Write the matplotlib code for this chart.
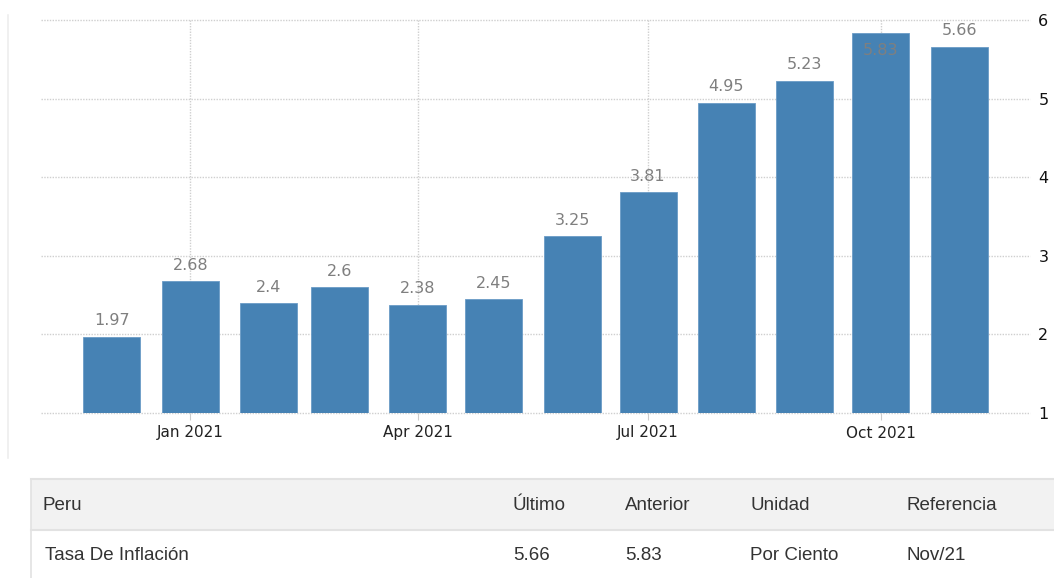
import matplotlib
matplotlib.use("Agg")
import matplotlib.pyplot as plt
import matplotlib.dates as mdates
from matplotlib.patches import Rectangle
from matplotlib.lines import Line2D
import numpy as np
import datetime as dt

# data: Peru inflation rate, monthly
months = ["2020-12", "2021-01", "2021-02", "2021-03", "2021-04", "2021-05",
          "2021-06", "2021-07", "2021-08", "2021-09", "2021-10", "2021-11"]
values = [1.97, 2.68, 2.4, 2.6, 2.38, 2.45, 3.25, 3.81, 4.95, 5.23, 5.83, 5.66]
tick_months = ["2021-01", "2021-04", "2021-07", "2021-10"]
tick_labels = ["Jan 2021", "Apr 2021", "Jul 2021", "Oct 2021"]
y_ticks = [1, 2, 3, 4, 5, 6]

# table under the chart
table_header = ["Peru", "Último", "Anterior", "Unidad", "Referencia"]
table_row = ["Tasa De Inflación", "5.66", "5.83", "Por Ciento", "Nov/21"]

W, H = 1054, 578
fig = plt.figure(figsize=(W / 100, H / 100), dpi=100)

def px(x, y):
    # pixel coords (top-left origin) -> figure fraction
    return x / W, 1 - y / H

x0, y1 = px(41, 413)
x1, y0 = px(1030, 20)
ax = fig.add_axes([x0, y1, x1 - x0, y0 - y1])

dates = [dt.datetime.strptime(m, "%Y-%m") for m in months]
xd = mdates.date2num(dates)
ax.bar(xd, np.array(values) - 1, bottom=1, width=22.5, color="#4682b4",
       edgecolor="#6a9bc6", linewidth=0.6, zorder=3)

for x, v in zip(xd, values):
    lbl = f"{v:g}"
    if v > 5.7:
        ax.annotate(lbl, (x, v), xytext=(0, -7), textcoords="offset points",
                    ha="center", va="top", fontsize=11.5, color="#7f7f7f", zorder=4)
    else:
        ax.annotate(lbl, (x, v), xytext=(0, 6), textcoords="offset points",
                    ha="center", va="bottom", fontsize=11.5, color="#7f7f7f", zorder=4)

ax.set_xlim(mdates.date2num(dt.datetime(2020, 11, 3)),
            mdates.date2num(dt.datetime(2021, 11, 29)))
ax.set_ylim(1, 6)

tx = mdates.date2num([dt.datetime.strptime(m, "%Y-%m") for m in tick_months])
ax.set_xticks(tx)
ax.set_xticklabels(tick_labels, fontsize=11, color="#222")
ax.tick_params(axis="x", length=5, color="#cccccc", pad=4)
ax.yaxis.tick_right()
ax.set_yticks(y_ticks)
ax.set_yticklabels([str(t) for t in y_ticks], fontsize=11.5, color="#111")
ax.tick_params(axis="y", length=0, pad=6)

ax.grid(True, linestyle=(0, (1, 1)), color="#cfcfcf", linewidth=1, zorder=0)
for gl in ax.get_ygridlines() + ax.get_xgridlines():
    gl.set_clip_on(False)
for s in ax.spines.values():
    s.set_visible(False)

# faint frame line on the left
fig.add_artist(Line2D([8 / W, 8 / W], [1 - 15 / H, 1 - 458 / H],
                      color="#eeeeee", linewidth=1.2))

# table
hx, hy = px(31, 530)
fig.add_artist(Rectangle((hx, hy), 1 - hx, (530 - 479) / H,
                         facecolor="#f2f2f2", edgecolor="none"))
fig.add_artist(Line2D([hx, 1], [1 - 479 / H] * 2, color="#e2e2e2", linewidth=1.5))
fig.add_artist(Line2D([hx, 1], [1 - 530 / H] * 2, color="#e2e2e2", linewidth=1.5))
fig.add_artist(Line2D([hx, hx], [1 - 479 / H, 0], color="#e2e2e2", linewidth=1.2))

col_x = [43, 513, 625, 750, 907]
for cx, t in zip(col_x, table_header):
    fig.text(cx / W, 1 - 505 / H, t, fontsize=13.5, family="Liberation Sans",
             color="#333333", va="center", ha="left")
for i, (cx, t) in enumerate(zip(col_x, table_row)):
    fig.text((cx + (2 if i == 0 else 0)) / W, 1 - 555 / H, t, fontsize=13.5,
             family="Liberation Sans", color="#333333", va="center", ha="left")

fig.savefig("out.png", dpi=100)
